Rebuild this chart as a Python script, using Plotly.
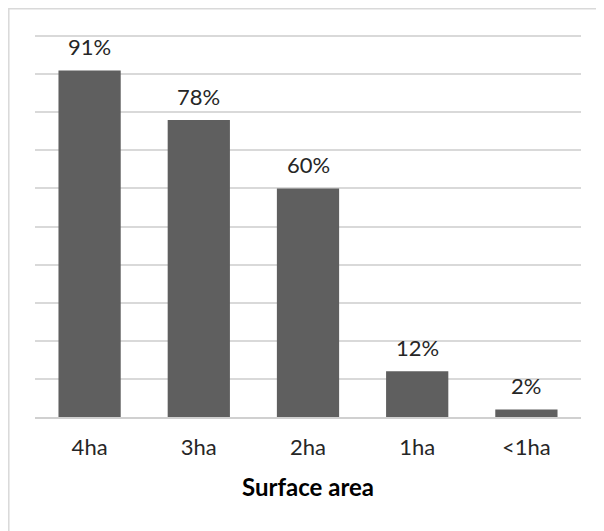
import plotly.graph_objects as go

categories = ["4ha", "3ha", "2ha", "1ha", "<1ha"]
values = [91, 78, 60, 12, 2]
labels = ["91%", "78%", "60%", "12%", "2%"]

FONT = "Lato"

fig = go.Figure()
fig.add_trace(go.Bar(
    x=categories, y=values,
    marker=dict(color="#5f5f5f", line=dict(width=0)),
    hoverinfo="skip",
))

for c, v, t in zip(categories, values, labels):
    fig.add_annotation(x=c, y=v, text=t, showarrow=False, yanchor="bottom",
                       yshift=8, font=dict(family=FONT, size=22, color="#262626"))

fig.add_shape(type="rect", xref="paper", yref="paper",
              x0=-0.048, x1=1.08, y0=-0.36, y1=1.0687,
              line=dict(color="#d9d9d9", width=1.5), fillcolor="rgba(0,0,0,0)",
              layer="below")

fig.update_layout(
    width=596, height=523,
    margin=dict(l=27, r=23, t=27, b=114, autoexpand=False),
    paper_bgcolor="white", plot_bgcolor="white",
    bargap=0.43,
    showlegend=False,
    font=dict(family=FONT, color="#262626"),
    xaxis=dict(
        automargin=False,
        showgrid=False, showline=True, linecolor="#d0d0d0", linewidth=2,
        ticks="", tickfont=dict(family=FONT, size=22, color="#262626"),
        ticklabelstandoff=10,
        title=dict(text="<b>Surface area</b>", font=dict(family=FONT, size=24, color="#000000"),
                   standoff=20),
    ),
    yaxis=dict(
        automargin=False,
        range=[0, 100.3], dtick=10, showticklabels=False, showgrid=True,
        gridcolor="#d9d9d9", gridwidth=2, zeroline=False, showline=False,
    ),
)

fig.write_html("out.html")
